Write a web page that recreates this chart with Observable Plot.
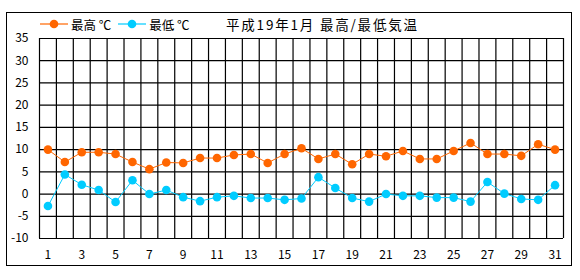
<!DOCTYPE html>
<html>
<head>
<meta charset="utf-8">
<script src="https://cdn.jsdelivr.net/npm/d3@7"></script>
<script src="https://cdn.jsdelivr.net/npm/@observablehq/plot@0.6"></script>
<style>
  html, body { margin: 0; padding: 0; background: #fff; }
  #wrap { position: relative; width: 580px; height: 280px; font-family: "Noto Sans CJK JP", sans-serif; }
  #frame { position: absolute; left: 6px; top: 12px; width: 564px; height: 252px; border: 1.5px solid #000; }
  #legend { position: absolute; left: 40px; top: 15px; height: 18px; display: flex; align-items: center; font-size: 12.5px; color: #000; white-space: nowrap; }
  #legend .item { display: flex; align-items: center; margin-right: 4px; }
  #legend svg { margin-right: 3px; }
  #title { position: absolute; left: 226px; top: 14px; font-size: 13.5px; letter-spacing: 1.8px; white-space: nowrap; }
  #chart { position: absolute; left: 0; top: 0; }
</style>
</head>
<body>
<div id="wrap">
  <div id="frame"></div>
  <div id="chart"></div>
  <div id="legend"></div>
  <div id="title"></div>
</div>
<script>
const titleText = "平成19年1月 最高/最低気温";
const seriesNames = ["最高 ℃", "最低 ℃"];
const seriesColors = ["#FF6600", "#00CCFF"];
const days = [1,2,3,4,5,6,7,8,9,10,11,12,13,14,15,16,17,18,19,20,21,22,23,24,25,26,27,28,29,30,31];
const tmax = [10.0,7.2,9.4,9.4,9.0,7.2,5.6,7.1,7.0,8.1,8.1,8.8,9.0,7.0,9.0,10.3,7.9,9.0,6.7,9.0,8.5,9.7,7.9,7.9,9.7,11.5,9.0,9.0,8.6,11.2,10.0];
const tmin = [-2.7,4.4,2.1,0.9,-1.8,3.1,0.0,0.9,-0.7,-1.6,-0.7,-0.4,-0.9,-0.9,-1.3,-1.0,3.8,1.35,-0.9,-1.7,0.0,-0.4,-0.4,-0.8,-0.8,-1.7,2.7,0.1,-1.1,-1.3,2.0];
const yTicks = [-10,-5,0,5,10,15,20,25,30,35];
const xTickLabels = [1,3,5,7,9,11,13,15,17,19,21,23,25,27,29,31];

const rows = days.flatMap((d, i) => [
  {day: d, value: tmax[i], series: seriesNames[0]},
  {day: d, value: tmin[i], series: seriesNames[1]}
]);
const xDomain = [days[0] - 0.5, days[days.length - 1] + 0.5];
const xGrid = d3.range(xDomain[0], xDomain[1] + 0.01, 1);

const chart = Plot.plot({
  width: 580,
  height: 280,
  marginLeft: 39,
  marginRight: 17,
  marginTop: 38,
  marginBottom: 42,
  style: {fontFamily: "'Noto Sans CJK JP', sans-serif", fontSize: "12px", color: "#000", background: "transparent"},
  x: {domain: xDomain, ticks: xTickLabels, tickSize: 0, tickPadding: 12, tickFormat: d => String(d), label: null},
  y: {domain: [yTicks[0], yTicks[yTicks.length - 1]], ticks: yTicks, tickSize: 0, tickPadding: 11, tickFormat: d => String(d), label: null},
  color: {domain: seriesNames, range: seriesColors},
  marks: [
    Plot.ruleY(yTicks, {stroke: "#000", strokeWidth: 1.2, strokeOpacity: 1}),
    Plot.ruleX(xGrid, {stroke: "#000", strokeWidth: 1.2, strokeOpacity: 1}),
    Plot.line(rows, {x: "day", y: "value", z: "series", stroke: "series", strokeWidth: 1}),
    Plot.dot(rows, {x: "day", y: "value", fill: "series", r: 4.3, stroke: null})
  ]
});
document.getElementById("chart").appendChild(chart);

const legend = document.getElementById("legend");
seriesNames.forEach((name, i) => {
  const item = document.createElement("div");
  item.className = "item";
  item.innerHTML = `<svg width="28" height="12"><line x1="0" y1="6" x2="28" y2="6" stroke="${seriesColors[i]}" stroke-width="1.2"/><circle cx="14" cy="6" r="4.3" fill="${seriesColors[i]}"/></svg><span>${name}</span>`;
  if (i === 0) item.style.marginRight = "7px";
  legend.appendChild(item);
});
document.getElementById("title").textContent = titleText;
</script>
</body>
</html>
